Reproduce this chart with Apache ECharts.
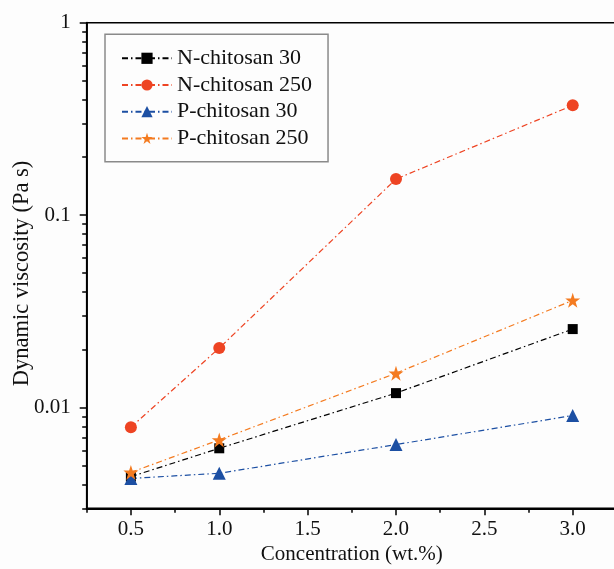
<!DOCTYPE html>
<html>
<head>
<meta charset="utf-8">
<script src="https://cdn.jsdelivr.net/npm/echarts@6/dist/echarts.min.js"></script>
<style>
html,body{margin:0;padding:0;background:#fdfdfd;}
#c{width:614px;height:569px;}
</style>
</head>
<body>
<div id="c"></div>
<script>
// Data
const concentrations = [0.5, 1.0, 2.0, 3.0];
const nChitosan30 = [0.00438, 0.00615, 0.0119, 0.0256];
const nChitosan250 = [0.00791, 0.0204, 0.154, 0.372];
const pChitosan30 = [0.00429, 0.00456, 0.00643, 0.0091];
const pChitosan250 = [0.00461, 0.0068, 0.0151, 0.0361];
const seriesNames = ['N-chitosan 30', 'N-chitosan 250', 'P-chitosan 30', 'P-chitosan 250'];
const xMajorTicks = [0.5, 1.0, 1.5, 2.0, 2.5, 3.0];
const xMinorTicks = [0.25, 0.75, 1.25, 1.75, 2.25, 2.75, 3.25];
const yMajorTicks = [0.01, 0.1, 1];
const yMinorTicks = [0.003, 0.004, 0.005, 0.006, 0.007, 0.008, 0.009,
  0.02, 0.03, 0.04, 0.05, 0.06, 0.07, 0.08, 0.09,
  0.2, 0.3, 0.4, 0.5, 0.6, 0.7, 0.8, 0.9];

const FONT = '"Liberation Serif", "Times New Roman", serif';
const pair = arr => concentrations.map((x, i) => [x, arr[i]]);
const dash = [6, 3, 1.5, 3];

function mkSeries(name, arr, color, symbol, size) {
  return {
    name: name, type: 'line', data: pair(arr),
    xAxisIndex: 0, yAxisIndex: 0,
    symbol: symbol, symbolSize: size,
    itemStyle: { color: color },
    lineStyle: { color: color, width: 1.2, type: dash },
    z: 5
  };
}

const chart = echarts.init(document.getElementById('c'), null, { renderer: 'canvas' });
chart.setOption({
  backgroundColor: '#fdfdfd',
  animation: false,
  grid: { left: 86.7, top: 22.7, width: 530.2, height: 485.6, show: true, borderColor: '#000', borderWidth: 1.6, containLabel: false, outerBoundsMode: 'none' },
  legend: {
    orient: 'vertical', left: 105, top: 34.3,
    itemWidth: 50, itemHeight: 14, itemGap: 4.7,
    borderColor: '#8a8a8a', borderWidth: 1.5,
    padding: [13, 16, 12.4, 16],
    textStyle: { fontFamily: FONT, fontSize: 22, color: '#111' },
    data: seriesNames
  },
  xAxis: [{
    type: 'value', min: 0.25, max: 3.25, interval: 0.25,
    position: 'bottom',
    name: 'Concentration (wt.%)', nameLocation: 'middle', nameGap: 36, nameMoveOverlap: false,
    nameTextStyle: { fontFamily: FONT, fontSize: 21, color: '#111' },
    axisLine: { show: true, lineStyle: { color: '#000', width: 1.8 } },
    axisTick: { show: true, length: 7, inside: false, customValues: xMajorTicks, lineStyle: { color: '#000', width: 1.5 } },
    axisLabel: { show: true, customValues: xMajorTicks, margin: 11, fontFamily: FONT, fontSize: 21, color: '#111', formatter: v => v.toFixed(1) },
    splitLine: { show: false }
  }, {
    type: 'value', min: 0.25, max: 3.25, interval: 0.25,
    position: 'bottom', offset: 0,
    axisLine: { show: false },
    axisTick: { show: true, length: 4.5, customValues: xMinorTicks, lineStyle: { color: '#000', width: 1.5 } },
    axisLabel: { show: false },
    splitLine: { show: false }
  }],
  yAxis: [{
    type: 'log', logBase: 10, min: 0.003, max: 1,
    position: 'left',
    name: 'Dynamic viscosity (Pa s)', nameLocation: 'middle', nameGap: 53, nameMoveOverlap: false,
    nameTextStyle: { fontFamily: FONT, fontSize: 22.5, color: '#111', padding: [0, 16, 0, 0] },
    axisLine: { show: true, lineStyle: { color: '#000', width: 1.8 } },
    axisTick: { show: true, length: 7, customValues: yMajorTicks, lineStyle: { color: '#000', width: 1.5 } },
    axisLabel: { show: true, customValues: yMajorTicks, margin: 16, fontFamily: FONT, fontSize: 21, color: '#111', formatter: v => String(+v.toPrecision(3)) },
    splitLine: { show: false }
  }, {
    type: 'log', logBase: 10, min: 0.003, max: 1,
    position: 'left', offset: 0,
    axisLine: { show: false },
    axisTick: { show: true, length: 4.5, customValues: yMinorTicks, lineStyle: { color: '#000', width: 1.5 } },
    axisLabel: { show: false },
    splitLine: { show: false }
  }],
  series: [
    mkSeries(seriesNames[0], nChitosan30, '#000000', 'rect', 10),
    mkSeries(seriesNames[1], nChitosan250, '#ee4423', 'circle', 12),
    mkSeries(seriesNames[2], pChitosan30, '#1c4fa3', 'triangle', 13),
    mkSeries(seriesNames[3], pChitosan250, '#f47b20', 'path://M12,0.6L14.7,8.9H23.4L16.4,14L19.1,22.3L12,17.2L4.9,22.3L7.6,14L0.6,8.9H9.3Z', 15)
  ]
});
</script>
</body>
</html>
